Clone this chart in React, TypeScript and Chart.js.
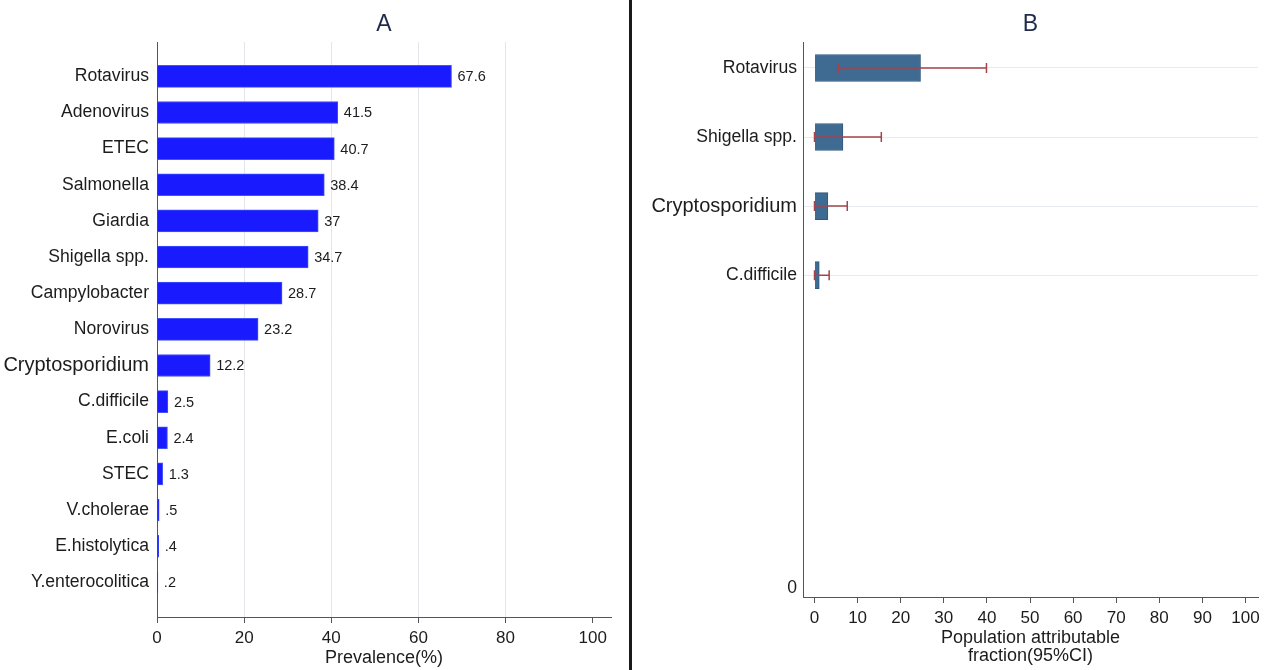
import React, { useEffect, useRef } from 'react';
import { Chart, registerables } from 'chart.js';

Chart.register(...registerables);

// ---------- Data ----------
const pathogensA = [
  'Rotavirus', 'Adenovirus', 'ETEC', 'Salmonella', 'Giardia', 'Shigella spp.',
  'Campylobacter', 'Norovirus', 'Cryptosporidium', 'C.difficile', 'E.coli',
  'STEC', 'V.cholerae', 'E.histolytica', 'Y.enterocolitica',
];
const prevalence = [67.6, 41.5, 40.7, 38.4, 37, 34.7, 28.7, 23.2, 12.2, 2.5, 2.4, 1.3, 0.5, 0.4, 0.2];
const xTicksA = [0, 20, 40, 60, 80, 100];

const pathogensB = ['Rotavirus', 'Shigella spp.', 'Cryptosporidium', 'C.difficile'];
const paf = [24.6, 6.6, 3.1, 1.1];
const pafLower = [5.5, 0, 0, 0];
const pafUpper = [39.9, 15.5, 7.6, 3.4];
const xTicksB = [0, 10, 20, 30, 40, 50, 60, 70, 80, 90, 100];
const bottomLabelB = '0';

// ---------- Styles ----------
const FONT = "'Liberation Sans', Arial, Helvetica, sans-serif";
const TEXT = '#1c1c1c';
const AXIS = '#555555';
const BIG_LABEL = 'Cryptosporidium';

const fmt = (v: number) => String(v).replace(/^0\./, '.');

function panelTitle(text: string) {
  return {
    id: 'panelTitle' + text,
    afterDraw(chart: any) {
      const { ctx, chartArea } = chart;
      ctx.save();
      ctx.font = `23px ${FONT}`;
      ctx.fillStyle = '#1f2b4a';
      ctx.textAlign = 'center';
      ctx.textBaseline = 'middle';
      ctx.fillText(text, (chartArea.left + chartArea.right) / 2, 25);
      ctx.restore();
    },
  };
}

const valueLabels = {
  id: 'valueLabels',
  afterDatasetsDraw(chart: any) {
    const { ctx } = chart;
    const meta = chart.getDatasetMeta(0);
    ctx.save();
    ctx.font = `14.5px ${FONT}`;
    ctx.fillStyle = TEXT;
    ctx.textAlign = 'left';
    ctx.textBaseline = 'middle';
    meta.data.forEach((bar: any, i: number) => {
      ctx.fillText(fmt(prevalence[i]), bar.x + 6, bar.y + 1);
    });
    ctx.restore();
  },
};

const errorBars = {
  id: 'errorBars',
  afterDatasetsDraw(chart: any) {
    const { ctx, scales } = chart;
    const xs = scales.x;
    const ys = scales.y;
    ctx.save();
    ctx.strokeStyle = '#a3444c';
    ctx.lineWidth = 1.5;
    pathogensB.forEach((_, i) => {
      const y = ys.getPixelForValue(i);
      const x1 = xs.getPixelForValue(pafLower[i]);
      const x2 = xs.getPixelForValue(pafUpper[i]);
      ctx.beginPath();
      ctx.moveTo(x1, y);
      ctx.lineTo(x2, y);
      ctx.moveTo(x1, y - 5);
      ctx.lineTo(x1, y + 5);
      ctx.moveTo(x2, y - 5);
      ctx.lineTo(x2, y + 5);
      ctx.stroke();
    });
    ctx.restore();
  },
};

function catFont(labels: string[]) {
  return (c: any) => ({
    family: FONT,
    size: c && c.tick && labels[c.tick.value] === BIG_LABEL ? 20 : 17.6,
  });
}

export default function App() {
  const refA = useRef<HTMLCanvasElement>(null);
  const refB = useRef<HTMLCanvasElement>(null);

  useEffect(() => {
    const chartA = new Chart(refA.current as HTMLCanvasElement, {
      type: 'bar',
      data: {
        datasets: [
          {
            data: prevalence.map((v, i) => ({ x: v, y: i })),
            backgroundColor: '#1a1aff',
            borderColor: '#4152ff',
            borderWidth: 1,
            barThickness: 22,
          },
        ],
      },
      options: {
        indexAxis: 'y',
        animation: false,
        responsive: false,
        layout: { padding: { top: 42, right: 18, left: 0, bottom: 0 } },
        plugins: { legend: { display: false }, tooltip: { enabled: false }, title: { display: false } },
        scales: {
          x: {
            type: 'linear',
            position: 'bottom',
            min: 0,
            max: 104.2,
            offset: false,
            afterBuildTicks: (s: any) => {
              s.ticks = xTicksA.map((v) => ({ value: v }));
            },
            afterFit: (s: any) => {
              s.height = 53;
            },
            grid: {
              color: (c: any) =>
                c.tick && c.tick.value > 0 && c.tick.value < 100 ? '#e3e7ed' : 'rgba(0,0,0,0)',
              tickColor: AXIS,
              tickLength: 6,
              offset: false,
            },
            border: { display: true, color: AXIS, width: 1 },
            ticks: { font: { family: FONT, size: 17 }, color: TEXT, padding: 5, maxRotation: 0, autoSkip: false },
            title: {
              display: true,
              text: 'Prevalence(%)',
              color: TEXT,
              font: { family: FONT, size: 18, lineHeight: 1.2 },
              padding: { top: 0, bottom: 1 },
            },
          },
          y: {
            type: 'linear',
            reverse: true,
            min: -0.95,
            max: 14.96,
            offset: false,
            afterBuildTicks: (s: any) => {
              s.ticks = pathogensA.map((_, i) => ({ value: i }));
            },
            afterFit: (s: any) => {
              s.width = 157;
            },
            grid: { display: true, drawOnChartArea: false, drawTicks: false, offset: false },
            border: { display: true, color: AXIS, width: 1 },
            ticks: {
              autoSkip: false,
              color: TEXT,
              padding: 8,
              font: catFont(pathogensA) as any,
              callback: (v: any) => pathogensA[v] ?? '',
            },
          },
        },
      } as any,
      plugins: [panelTitle('A'), valueLabels],
    });

    const chartB = new Chart(refB.current as HTMLCanvasElement, {
      type: 'bar',
      data: {
        datasets: [
          {
            data: paf.map((v, i) => ({ x: v, y: i })),
            backgroundColor: '#3f6a91',
            borderColor: '#2f5a80',
            borderWidth: 1,
            barThickness: 27,
          },
        ],
      },
      options: {
        indexAxis: 'y',
        animation: false,
        responsive: false,
        layout: { padding: { top: 42, right: 9, left: 0, bottom: 0 } },
        plugins: { legend: { display: false }, tooltip: { enabled: false }, title: { display: false } },
        scales: {
          x: {
            type: 'linear',
            position: 'bottom',
            min: -2.67,
            max: 102.9,
            offset: false,
            afterBuildTicks: (s: any) => {
              s.ticks = xTicksB.map((v) => ({ value: v }));
            },
            afterFit: (s: any) => {
              s.height = 73;
            },
            grid: { drawOnChartArea: false, tickColor: AXIS, tickLength: 6, offset: false },
            border: { display: true, color: AXIS, width: 1 },
            ticks: { font: { family: FONT, size: 17 }, color: TEXT, padding: 5, maxRotation: 0, autoSkip: false },
            title: {
              display: true,
              text: ['Population attributable', 'fraction(95%CI)'],
              color: TEXT,
              font: { family: FONT, size: 18, lineHeight: 1.0 },
              padding: { top: 0, bottom: 5 },
            },
          },
          y: {
            type: 'linear',
            reverse: true,
            min: -0.376,
            max: 7.66,
            offset: false,
            afterBuildTicks: (s: any) => {
              s.ticks = [...pathogensB.map((_, i) => ({ value: i })), { value: 7.53 }];
            },
            afterFit: (s: any) => {
              s.width = 171;
            },
            grid: {
              color: (c: any) =>
                c.tick && c.tick.value < pathogensB.length ? '#e6eaef' : 'rgba(0,0,0,0)',
              drawTicks: false,
              offset: false,
            },
            border: { display: true, color: AXIS, width: 1 },
            ticks: {
              autoSkip: false,
              color: TEXT,
              padding: 6,
              font: catFont(pathogensB) as any,
              callback: (v: any) => pathogensB[v] ?? bottomLabelB,
            },
          },
        },
      } as any,
      plugins: [panelTitle('B'), errorBars],
    });

    return () => {
      chartA.destroy();
      chartB.destroy();
    };
  }, []);

  return (
    <div
      style={{
        position: 'absolute',
        left: 0,
        top: 0,
        width: 1267,
        height: 670,
        background: '#ffffff',
        display: 'flex',
        overflow: 'hidden',
      }}
    >
      <canvas ref={refA} width={629} height={670} style={{ display: 'block', width: 629, height: 670 }} />
      <div style={{ width: 3, height: 670, background: '#1a1a1a', flex: '0 0 3px' }} />
      <canvas ref={refB} width={635} height={670} style={{ display: 'block', width: 635, height: 670 }} />
    </div>
  );
}
